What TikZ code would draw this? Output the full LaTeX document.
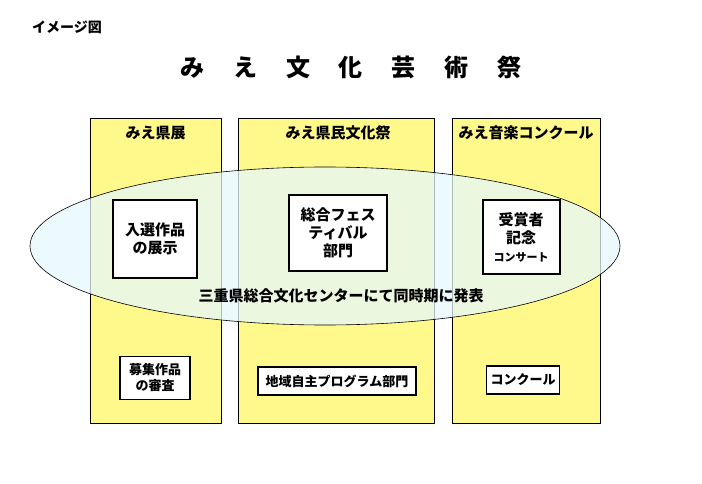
\documentclass[tikz,border=0pt]{standalone}
\usepackage{fontspec}
\setmainfont{Noto Sans CJK JP}
\usetikzlibrary{positioning}
\tikzset{
  column/.style={draw, fill=yellow!45, line width=0.6pt},
  inbox/.style={draw, fill=white, line width=2pt, align=center, font=\bfseries\fontsize{15}{18}\selectfont},
  smallbox/.style={draw, fill=white, line width=1.6pt, align=center, inner sep=3pt, font=\bfseries\fontsize{13}{16}\selectfont},
  header/.style={font=\bfseries\fontsize{15}{18}\selectfont}
}
\begin{document}
\begin{tikzpicture}[x=1pt,y=-1pt]
\useasboundingbox (0,0) rectangle (702,484);
\node (label) [font=\bfseries\fontsize{14}{16}\selectfont] at (67,27) {イメージ図};
\node (title) [font=\bfseries\fontsize{24}{28}\selectfont] at (351,67) {み\hspace{1.2em}え\hspace{1.2em}文\hspace{1.2em}化\hspace{1.2em}芸\hspace{1.2em}術\hspace{1.2em}祭};

% columns
\draw[column] (90,118) rectangle (221,423);
\draw[column] (238,118) rectangle (434,423);
\draw[column] (452,118) rectangle (600,423);
\node (ken) [header] at (155.5,133) {みえ県展};
\node (bunka) [header] at (338,133) {みえ県民文化祭};
\node (ongaku) [header] at (526,133) {みえ音楽コンクール};

% ellipse
\draw[fill=cyan!10, fill opacity=0.75, line width=0.6pt] (325,246) ellipse (295 and 79);
\node (happyo) [header] at (341,296) {三重県総合文化センターにて同時期に発表};

\node (tenji) [inbox, minimum width=84, minimum height=78] at (155,239) {入選作品\\の展示};
\node (fes) [inbox, minimum width=98, minimum height=75] at (338,233) {総合フェス\\ティバル\\部門};
\node (kinen) [inbox, minimum width=77, minimum height=73] at (521,237) {受賞者\\記念\\{\fontsize{11}{14}\selectfont コンサート}};

% bottom
\node (shinsa) [smallbox, minimum width=70, minimum height=43] at (155,378) {募集作品\\の審査};
\node (chiiki) [smallbox, minimum width=158, minimum height=28] at (337,381) {地域自主プログラム部門};
\node (concours) [smallbox, minimum width=73, minimum height=28] at (523,380) {コンクール};
\end{tikzpicture}
\end{document}
